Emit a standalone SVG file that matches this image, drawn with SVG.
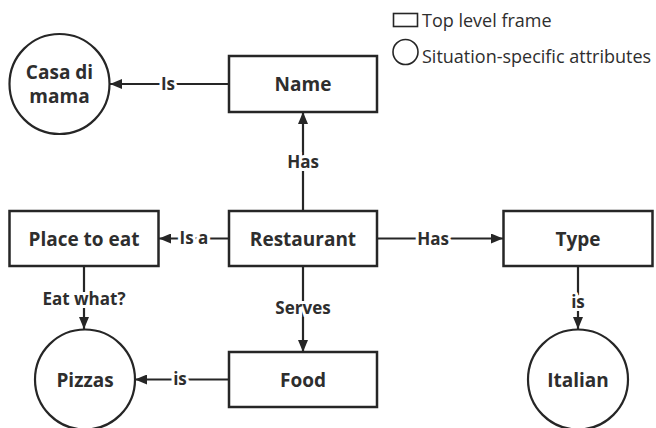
<svg xmlns="http://www.w3.org/2000/svg" width="656" height="428" viewBox="0 0 656 428">
  <style>
    .frame { fill: #ffffff; stroke: #262626; stroke-width: 2.5; }
    .attr { fill: #ffffff; stroke: #262626; stroke-width: 2.2; }
    .node-text { font-family: "Open Sans", "Noto Sans", sans-serif; font-weight: bold; font-size: 19px; fill: #2e2e2e; text-anchor: middle; dominant-baseline: central; }
    .edge { stroke: #262626; stroke-width: 2.2; fill: none; marker-end: url(#arrow); }
    .edge-label { font-family: "Open Sans", "Noto Sans", sans-serif; font-weight: bold; font-size: 17px; fill: #2e2e2e; text-anchor: middle; dominant-baseline: central; stroke: #ffffff; stroke-width: 6; paint-order: stroke; }
    .legend-shape { fill: #ffffff; stroke: #262626; stroke-width: 1.6; }
    .legend-text { font-family: "Open Sans", "Noto Sans", sans-serif; font-size: 18px; fill: #2e2e2e; }
  </style>
  <defs>
    <marker id="arrow" viewBox="0 0 12 10" refX="12" refY="5" markerWidth="12" markerHeight="10" markerUnits="userSpaceOnUse" orient="auto">
      <path d="M0,0 L12,5 L0,10 z" fill="#262626"/>
    </marker>
  </defs>
  <rect width="656" height="428" fill="#ffffff"/>

  <!-- legend -->
  <g id="legend">
    <rect class="legend-shape" x="393.5" y="13.5" width="24" height="13"/>
    <text class="legend-text" x="422" y="26.5">Top level frame</text>
    <circle class="legend-shape" cx="405.5" cy="52" r="12.5"/>
    <text class="legend-text" x="422" y="63">Situation-specific attributes</text>
  </g>

  <!-- connectors -->
  <g id="connectors">
    <line class="edge" x1="229" y1="84" x2="110" y2="84"/>
    <text class="edge-label" x="168" y="83">Is</text>

    <line class="edge" x1="303" y1="211" x2="303" y2="112"/>
    <text class="edge-label" x="303" y="161">Has</text>

    <line class="edge" x1="229" y1="238.5" x2="159" y2="238.5"/>
    <text class="edge-label" x="194" y="237.5">Is a</text>

    <line class="edge" x1="377" y1="238.5" x2="503" y2="238.5"/>
    <text class="edge-label" x="433" y="238">Has</text>

    <line class="edge" x1="303" y1="266" x2="303" y2="352"/>
    <text class="edge-label" x="303" y="307">Serves</text>

    <line class="edge" x1="84" y1="266" x2="84" y2="329"/>
    <text class="edge-label" x="84" y="298">Eat what?</text>

    <line class="edge" x1="578" y1="266" x2="578" y2="329"/>
    <text class="edge-label" x="578" y="301">is</text>

    <line class="edge" x1="229" y1="379.5" x2="135" y2="379.5"/>
    <text class="edge-label" x="180" y="378.5">is</text>
  </g>

  <!-- frames -->
  <g id="name">
    <rect class="frame" x="229" y="56" width="148" height="56"/>
    <text class="node-text" x="303" y="84">Name</text>
  </g>
  <g id="restaurant">
    <rect class="frame" x="229" y="211" width="148" height="55"/>
    <text class="node-text" x="303" y="238.5">Restaurant</text>
  </g>
  <g id="place-to-eat">
    <rect class="frame" x="9.5" y="211" width="149" height="55"/>
    <text class="node-text" x="84" y="238.5">Place to eat</text>
  </g>
  <g id="type">
    <rect class="frame" x="503.5" y="211" width="149" height="55"/>
    <text class="node-text" x="578" y="238.5">Type</text>
  </g>
  <g id="food">
    <rect class="frame" x="229" y="352" width="148" height="55"/>
    <text class="node-text" x="303" y="379.5">Food</text>
  </g>

  <!-- attributes -->
  <g id="casa-di-mama">
    <circle class="attr" cx="59.5" cy="84" r="50"/>
    <text class="node-text" x="59.5" y="72">Casa di</text>
    <text class="node-text" x="59.5" y="96">mama</text>
  </g>
  <g id="pizzas">
    <circle class="attr" cx="85" cy="379.5" r="50"/>
    <text class="node-text" x="85" y="379.5">Pizzas</text>
  </g>
  <g id="italian">
    <circle class="attr" cx="578" cy="379.5" r="50"/>
    <text class="node-text" x="578" y="379.5">Italian</text>
  </g>
</svg>
